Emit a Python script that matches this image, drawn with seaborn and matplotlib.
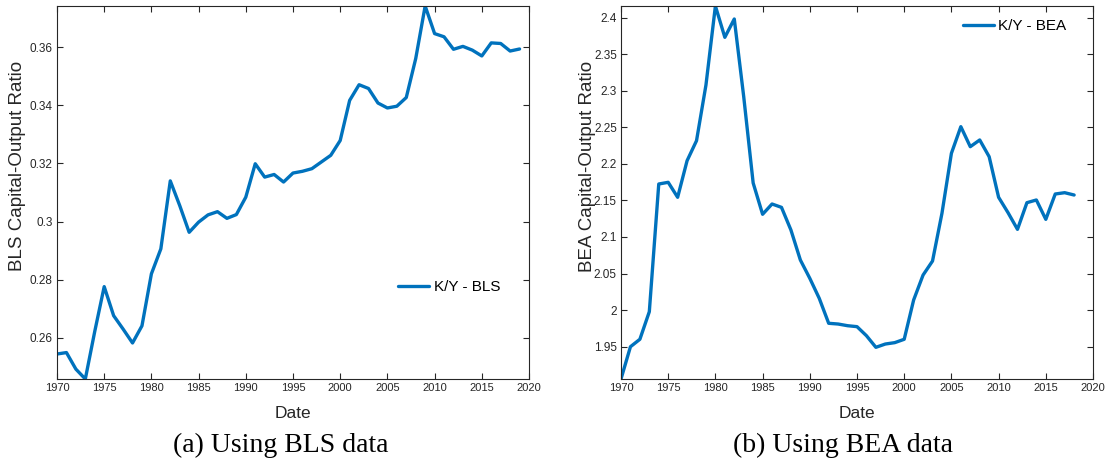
import numpy as np
import pandas as pd
import matplotlib
matplotlib.use("Agg")
import matplotlib.pyplot as plt
import seaborn as sns

# ---- data ----
years_bls = list(range(1970, 2020))
ky_bls = [0.2544, 0.2549, 0.2492, 0.2458, 0.2622, 0.2776, 0.2676, 0.2630, 0.2582, 0.2641,
          0.2820, 0.2906, 0.3140, 0.3055, 0.2963, 0.2998, 0.3023, 0.3034, 0.3011, 0.3024,
          0.3084, 0.3199, 0.3153, 0.3162, 0.3136, 0.3167, 0.3173, 0.3182, 0.3205, 0.3228,
          0.3279, 0.3417, 0.3471, 0.3458, 0.3408, 0.3391, 0.3397, 0.3427, 0.3561, 0.3742,
          0.3647, 0.3636, 0.3593, 0.3603, 0.3590, 0.3570, 0.3615, 0.3613, 0.3587, 0.3594]

years_bea = list(range(1970, 2019))
ky_bea = [1.9055, 1.9497, 1.9599, 1.9977, 2.1726, 2.1749, 2.1544, 2.2045, 2.2319, 2.3082,
          2.4164, 2.3735, 2.3986, 2.2922, 2.1740, 2.1311, 2.1452, 2.1406, 2.1096, 2.0685,
          2.0434, 2.0160, 1.9818, 1.9808, 1.9785, 1.9772, 1.9648, 1.9489, 1.9534, 1.9553,
          1.9599, 2.0137, 2.0479, 2.0671, 2.1325, 2.2146, 2.2511, 2.2237, 2.2329, 2.2100,
          2.1544, 2.1333, 2.1105, 2.1470, 2.1507, 2.1242, 2.1589, 2.1607, 2.1575]

xticks = [1970, 1975, 1980, 1985, 1990, 1995, 2000, 2005, 2010, 2015, 2020]
yticks_bls = [0.26, 0.28, 0.30, 0.32, 0.34, 0.36]
ytick_labels_bls = ["0.26", "0.28", "0.3", "0.32", "0.34", "0.36"]
yticks_bea = [1.95, 2.0, 2.05, 2.1, 2.15, 2.2, 2.25, 2.3, 2.35, 2.4]
ytick_labels_bea = ["1.95", "2", "2.05", "2.1", "2.15", "2.2", "2.25", "2.3", "2.35", "2.4"]

df_bls = pd.DataFrame({"Date": years_bls, "value": ky_bls, "series": "K/Y - BLS"})
df_bea = pd.DataFrame({"Date": years_bea, "value": ky_bea, "series": "K/Y - BEA"})

sns.set_theme(style="white")
plt.rcParams['font.family'] = ['Liberation Sans', 'DejaVu Sans']

LINE = "#0072BD"
AX = "#262626"

fig = plt.figure(figsize=(11.08, 4.61), dpi=100)
W, H = 1108, 461
ax1 = fig.add_axes([57 / W, 1 - 379 / H, 472 / W, 373 / H])
ax2 = fig.add_axes([621 / W, 1 - 379 / H, 472 / W, 373 / H])

panels = [
    (ax1, df_bls, yticks_bls, ytick_labels_bls, "BLS Capital-Output Ratio",
     (min(ky_bls), max(ky_bls)), (0.831, 0.247), 18),
    (ax2, df_bea, yticks_bea, ytick_labels_bea, "BEA Capital-Output Ratio",
     (min(ky_bea), max(ky_bea)), (0.834, 0.946), 587),
]

for ax, df, yt, ytl, ylab, ylim, legpos, ylab_x in panels:
    sns.lineplot(data=df, x="Date", y="value", hue="series", palette=[LINE],
                 linewidth=2.4, ax=ax)
    ax.set_xlim(1970, 2020)
    ax.set_ylim(*ylim)
    ax.set_xticks(xticks)
    ax.set_xticklabels([str(t) for t in xticks], fontsize=8, color=AX)
    ax.set_yticks(yt)
    ax.set_yticklabels(ytl, fontsize=8.5, color=AX)
    ax.tick_params(direction="in", length=4.5, width=0.8, color=AX,
                   top=True, right=True, bottom=True, left=True, pad=3)
    for s in ax.spines.values():
        s.set_visible(True)
        s.set_color(AX)
        s.set_linewidth(0.8)
    ax.set_xlabel("Date", fontsize=12.5, color=AX)
    ax.set_ylabel(ylab, fontsize=13.5, color=AX)
    # position axis labels (in pixel-derived axes fractions)
    x0 = ax.get_position().x0 * W
    ax.yaxis.set_label_coords((ylab_x - x0) / 472, (379 - 166) / 373)
    ax.xaxis.set_label_coords(0.5, -(413 - 379) / 373)
    ax.xaxis.label.set_va("center")
    ax.yaxis.label.set_va("center")
    leg = ax.legend(loc="center", bbox_to_anchor=legpos, frameon=False, fontsize=11,
                    handlelength=2.0, handletextpad=0.3)
    for txt in leg.get_texts():
        txt.set_color("black")
    ax.grid(False)

fig.text(281 / W, 1 - 452 / H, "(a) Using BLS data", ha="center", va="baseline",
         fontsize=20, family=["Liberation Serif", "DejaVu Serif"], color="black")
fig.text(843 / W, 1 - 452 / H, "(b) Using BEA data", ha="center", va="baseline",
         fontsize=20, family=["Liberation Serif", "DejaVu Serif"], color="black")

fig.savefig("out.png", dpi=100, facecolor="white")
